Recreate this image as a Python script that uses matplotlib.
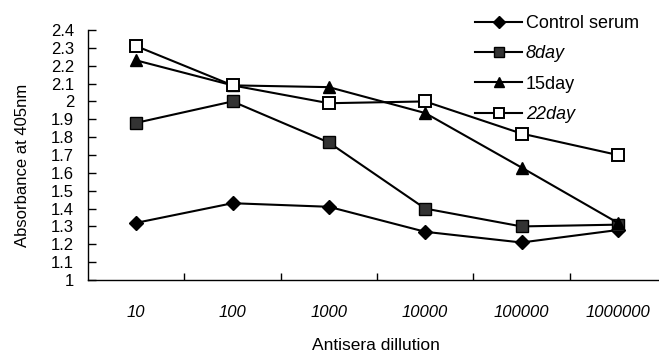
import matplotlib
matplotlib.use("Agg")
import matplotlib.pyplot as plt
import numpy as np

plt.rcParams['font.family'] = ['Liberation Sans', 'DejaVu Sans']

categories = ["10", "100", "1000", "10000", "100000", "1000000"]
control = [1.32, 1.43, 1.41, 1.27, 1.21, 1.28]
day8 = [1.88, 2.00, 1.77, 1.40, 1.30, 1.31]
day15 = [2.23, 2.09, 2.08, 1.935, 1.63, 1.32]
day22 = [2.31, 2.09, 1.99, 2.00, 1.82, 1.70]
yticks = [1.0, 1.1, 1.2, 1.3, 1.4, 1.5, 1.6, 1.7, 1.8, 1.9, 2.0, 2.1, 2.2, 2.3, 2.4]
ytick_labels = ["1", "1.1", "1.2", "1.3", "1.4", "1.5", "1.6", "1.7", "1.8", "1.9", "2", "2.1", "2.2", "2.3", "2.4"]

fig = plt.figure(figsize=(6.59, 3.58), dpi=100)
ax = fig.add_axes([88/659, 1-280/358, (666-88)/659, 250/358])
x = np.arange(len(categories))

ax.plot(x, control, color='black', lw=1.5, marker='D', ms=7, mfc='black', mec='black', label='Control serum')
ax.plot(x, day8, color='black', lw=1.5, marker='s', ms=8, mfc='#333333', mec='black', label='8day')
ax.plot(x, day15, color='black', lw=1.5, marker='^', ms=8, mfc='black', mec='black', label='15day')
ax.plot(x, day22, color='black', lw=1.5, marker='s', ms=9, mfc='white', mec='black', mew=1.4, label='22day')

ax.set_xlim(-0.5, len(categories) - 0.5)
ax.set_ylim(1.0, 2.4)
ax.set_yticks(yticks)
ax.set_yticklabels(ytick_labels, fontsize=12)
ax.set_xticks(x)
ax.set_xticklabels(categories, fontsize=12, style='italic')
ax.set_xticks(np.arange(len(categories) - 1) + 0.5, minor=True)
ax.tick_params(axis='x', which='major', length=0, pad=18)
ax.tick_params(axis='x', which='minor', direction='in', length=5, width=1)
ax.tick_params(axis='y', direction='in', length=6, width=1, pad=10)
ax.spines['top'].set_visible(False)
ax.spines['right'].set_visible(False)
ax.spines['left'].set_linewidth(1)
ax.spines['bottom'].set_linewidth(1)

ax.set_ylabel('Absorbance at 405nm', fontsize=12)
ax.yaxis.set_label_coords((30-88)/(666-88), (280-165)/250)
ax.set_xlabel('Antisera dillution', fontsize=12.5)
ax.xaxis.set_label_coords((376-88)/(666-88), -(345-280)/250)
ax.xaxis.label.set_va('center')

leg = ax.legend(loc='upper left', bbox_to_anchor=((459-88)/(666-88), 1.125), frameon=False,
                fontsize=13, handlelength=2.6, handletextpad=0.2, labelspacing=0.74,
                markerscale=0.85)
for t in leg.get_texts():
    if t.get_text() in ('8day', '22day'):
        t.set_style('italic')

fig.savefig('out.png', dpi=100)
